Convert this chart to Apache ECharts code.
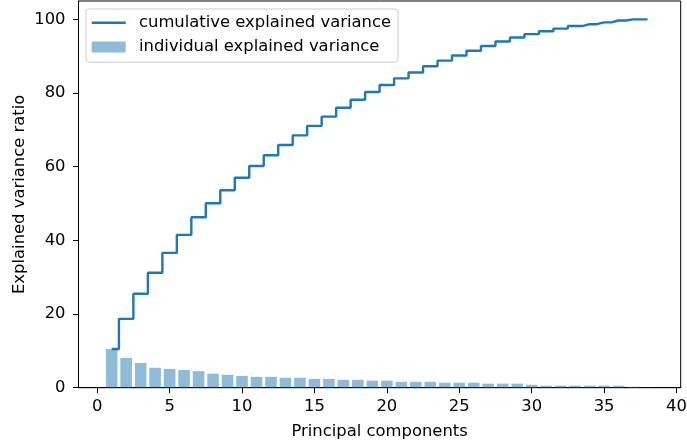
<!DOCTYPE html>
<html>
<head>
<meta charset="utf-8">
<script src="https://cdn.jsdelivr.net/npm/echarts@6/dist/echarts.min.js"></script>
<style>
  html, body { margin: 0; padding: 0; background: #fff; }
  #main { width: 687px; height: 443px; }
</style>
</head>
<body>
<div id="main"></div>
<script>
// principal component index
var components = [1, 2, 3, 4, 5, 6, 7, 8, 9, 10, 11, 12, 13, 14, 15, 16, 17, 18, 19,
    20, 21, 22, 23, 24, 25, 26, 27, 28, 29, 30, 31, 32, 33, 34, 35, 36, 37, 38];
// individual explained variance (%)
var individualVar = [10.5, 8.1, 6.7, 5.4, 5.1, 4.8, 4.5, 3.8, 3.5, 3.2, 2.95, 2.95, 2.7, 2.7,
    2.4, 2.4, 2.15, 2.15, 1.9, 1.9, 1.6, 1.6, 1.6, 1.35, 1.35, 1.35, 1.1, 1.1, 1.1, 0.8,
    0.55, 0.55, 0.55, 0.55, 0.55, 0.55, 0.25, 0.05];
// cumulative explained variance (%)
var cumulativeVar = [10.5, 18.7, 25.5, 31.2, 36.6, 41.5, 46.3, 50.1, 53.6, 57.0, 60.2, 63.1,
    65.9, 68.5, 71.1, 73.6, 76.0, 78.2, 80.3, 82.2, 84.0, 85.6, 87.3, 88.8, 90.2, 91.5,
    92.8, 94.0, 95.1, 96.0, 96.8, 97.5, 98.2, 98.7, 99.2, 99.7, 100, 100];
var xTicks = [0, 5, 10, 15, 20, 25, 30, 35, 40];
var yTicks = [0, 20, 40, 60, 80, 100];

var fontFam = 'DejaVu Sans';
var fs = 16.4;
var myChart = echarts.init(document.getElementById('main'), null, { renderer: 'canvas' });

var barData = [];
var lineData = [];
for (var i = 0; i < components.length; i++) {
    barData.push([components[i], individualVar[i]]);
    lineData.push([components[i], cumulativeVar[i]]);
}

var option = {
    animation: false,
    backgroundColor: '#fff',
    textStyle: { fontFamily: fontFam },
    grid: {
        left: 78.5,
        right: 6.3,
        top: 1,
        bottom: 55.3,
        containLabel: false,
        outerBoundsMode: 'none',
        show: true,
        borderColor: '#000',
        borderWidth: 1,
        backgroundColor: 'transparent'
    },
    legend: {
        orient: 'vertical',
        left: 86,
        top: 9,
        padding: [5.5, 7, 7, 5.7],
        itemWidth: 34,
        itemHeight: 11,
        itemGap: 7.9,
        symbolKeepAspect: true,
        backgroundColor: 'rgba(255,255,255,0.8)',
        borderColor: '#cccccc',
        borderWidth: 1,
        borderRadius: 3,
        textStyle: {
            fontFamily: fontFam,
            fontSize: fs,
            color: '#000',
            lineHeight: 16.4,
            padding: [0, 0, 0, 8.3]
        },
        data: [
            { name: 'cumulative explained variance', icon: 'path://M0,0H34V2.4H0Z' },
            { name: 'individual explained variance', icon: 'rect' }
        ]
    },
    xAxis: {
        type: 'value',
        min: -1.29,
        max: 40.29,
        name: 'Principal components',
        nameLocation: 'middle',
        nameGap: 36,
        nameMoveOverlap: false,
        nameTextStyle: { fontFamily: fontFam, fontSize: fs, color: '#000' },
        splitLine: { show: false },
        axisLine: { show: true, onZero: false, lineStyle: { color: '#000', width: 1 } },
        axisTick: { show: true, length: 5.5, customValues: xTicks, lineStyle: { color: '#000' } },
        axisLabel: {
            customValues: xTicks,
            margin: 11,
            fontFamily: fontFam,
            fontSize: fs,
            color: '#000'
        }
    },
    yAxis: {
        type: 'value',
        min: 0,
        max: 105,
        name: 'Explained variance ratio',
        nameLocation: 'middle',
        nameGap: 50.5,
        nameMoveOverlap: false,
        nameTextStyle: { fontFamily: fontFam, fontSize: fs, color: '#000' },
        splitLine: { show: false },
        axisLine: { show: true, onZero: false, lineStyle: { color: '#000', width: 1 } },
        axisTick: { show: true, length: 5.5, customValues: yTicks, lineStyle: { color: '#000' } },
        axisLabel: {
            customValues: yTicks,
            margin: 13,
            fontFamily: fontFam,
            fontSize: fs,
            color: '#000'
        }
    },
    series: [
        {
            name: 'individual explained variance',
            type: 'bar',
            barWidth: 11.6,
            itemStyle: { color: 'rgba(31,119,180,0.5)' },
            data: barData,
            z: 2
        },
        {
            name: 'cumulative explained variance',
            type: 'line',
            step: 'middle',
            symbol: 'none',
            showSymbol: false,
            lineStyle: { color: '#1f77b4', width: 2.4 },
            itemStyle: { color: '#1f77b4' },
            data: lineData,
            z: 3
        }
    ]
};
myChart.setOption(option);
</script>
</body>
</html>
